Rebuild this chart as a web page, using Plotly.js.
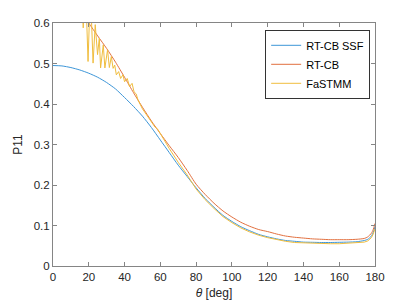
<!DOCTYPE html>
<html>
<head>
<meta charset="utf-8">
<script src="https://cdn.plot.ly/plotly-3.0.1.min.js"></script>
<style>html,body{margin:0;padding:0;background:#fff;}#chart{width:415px;height:301px;}</style>
</head>
<body>
<div id="chart"></div>
<script>
// RT-CB SSF
var thetaSSF = [0,5,10,15,20,25,30,35,40,45,50,55,60,65,70,75,80,85,90,95,100,105,110,115,120,125,130,135,140,145,150,155,160,165,170,174,176,178,179,180];
var p11SSF   = [0.495,0.494,0.490,0.484,0.476,0.466,0.453,0.437,0.416,0.394,0.370,0.342,0.311,0.280,0.249,0.221,0.193,0.167,0.145,0.125,0.110,0.097,0.087,0.078,0.072,0.067,0.063,0.061,0.059,0.0585,0.058,0.058,0.0585,0.059,0.060,0.063,0.066,0.074,0.083,0.097];
// RT-CB
var thetaCB = [0,5,10,15,20,25,30,35,40,45,50,55,60,65,70,75,80,85,90,95,100,105,110,115,120,125,130,135,140,145,150,155,160,165,170,174,176,178,179,180];
var p11CB   = [0.740,0.705,0.670,0.635,0.600,0.568,0.537,0.503,0.466,0.428,0.392,0.358,0.327,0.297,0.268,0.236,0.202,0.177,0.155,0.136,0.121,0.108,0.098,0.090,0.085,0.079,0.074,0.071,0.069,0.067,0.066,0.065,0.065,0.065,0.066,0.068,0.072,0.081,0.090,0.105];
// FaSTMM
var thetaFa = [0,5,10,15,16.5,16.9,17.4,18.5,19.6,20.5,21.5,22.4,23.6,24.9,25.9,26.6,28.1,29.0,30.5,31.5,32.6,33.6,34.5,35.4,36.7,37.8,39.1,40.0,41.5,42.8,44.2,45.3,46.5,47.5,50,53,55,57,58.5,60,62,65,70,75,80,85,90,95,100,105,110,115,120,125,130,135,140,145,150,155,160,165,170,174,176,178,179,180];
var p11Fa   = [0.95,0.90,0.82,0.72,0.66,0.588,0.67,0.65,0.505,0.63,0.61,0.501,0.596,0.522,0.563,0.489,0.546,0.489,0.534,0.490,0.517,0.488,0.496,0.472,0.480,0.463,0.472,0.455,0.463,0.443,0.451,0.430,0.425,0.410,0.388,0.368,0.355,0.343,0.338,0.327,0.310,0.290,0.256,0.225,0.190,0.164,0.142,0.122,0.107,0.094,0.084,0.076,0.070,0.065,0.061,0.058,0.057,0.056,0.055,0.055,0.055,0.056,0.057,0.059,0.062,0.070,0.079,0.092];

var xTicks = [0,20,40,60,80,100,120,140,160,180];
var yTicks = [0,0.1,0.2,0.3,0.4,0.5,0.6];
var names = ['RT-CB SSF','RT-CB','FaSTMM'];

var FONT = 'Liberation Sans, Arial, sans-serif';

var traces = [
  {x: thetaSSF, y: p11SSF, name: names[0], mode: 'lines', line: {color: '#3d96d8', width: 1, shape: 'spline', smoothing: 0.6}},
  {x: thetaCB, y: p11CB, name: names[1], mode: 'lines', line: {color: '#e2703f', width: 1, shape: 'spline', smoothing: 0.6}},
  {x: thetaFa, y: p11Fa, name: names[2], mode: 'lines', line: {color: '#f0bd3e', width: 1}}
];

var axisCommon = {
  showgrid: false, zeroline: false, showline: true, mirror: 'ticks',
  linecolor: '#858585', linewidth: 1, ticks: 'inside', ticklen: 4, tickwidth: 1, tickcolor: '#858585',
  tickfont: {family: FONT, size: 11.5, color: '#262626'}
};

var layout = {
  width: 415, height: 301,
  margin: {l: 53, r: 40, t: 23, b: 35},
  paper_bgcolor: '#fff', plot_bgcolor: '#fff',
  showlegend: true,
  xaxis: Object.assign({}, axisCommon, {
    range: [0, 180], tickvals: xTicks, ticktext: xTicks.map(String),
    title: {text: '<i>θ</i> [deg]', standoff: 6, font: {family: FONT, size: 12, color: '#262626'}}
  }),
  yaxis: Object.assign({}, axisCommon, {
    range: [0, 0.6], tickvals: yTicks, ticktext: yTicks.map(String),
    title: {text: 'P11', standoff: 8, font: {family: FONT, size: 12, color: '#262626'}}
  }),
  legend: {
    x: 0.985, xanchor: 'right', y: 0.972, yanchor: 'top',
    bgcolor: '#fff', bordercolor: '#333', borderwidth: 1,
    font: {family: FONT, size: 11, color: '#000'},
    tracegroupgap: 0, itemwidth: 30
  }
};

Plotly.newPlot('chart', traces, layout, {displayModeBar: false, staticPlot: true});
</script>
</body>
</html>
